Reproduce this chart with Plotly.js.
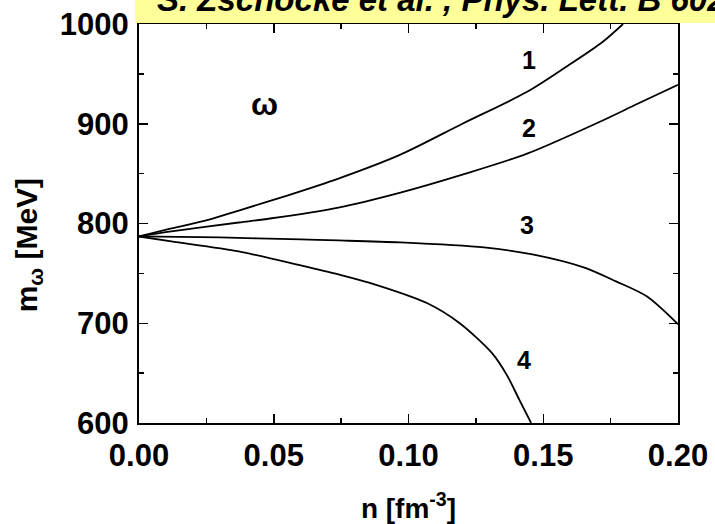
<!DOCTYPE html>
<html>
<head>
<meta charset="utf-8">
<script src="https://cdn.plot.ly/plotly-3.0.1.min.js"></script>
<style>
  html, body { margin: 0; padding: 0; background: #fff; }
  #chart { width: 715px; height: 524px; }
</style>
</head>
<body>
<div id="chart"></div>
<script>
// omega meson mass vs. baryon density, four parameter sets
const n1 = [0, 0.012, 0.026, 0.037, 0.055, 0.074, 0.097, 0.120, 0.144, 0.159, 0.172, 0.1796];
const m1 = [787, 795, 804, 813, 828, 845, 869, 900, 932, 958, 982, 1000];

const n2 = [0, 0.012, 0.037, 0.0486, 0.074, 0.097, 0.120, 0.144, 0.171, 0.185, 0.2];
const m2 = [787, 792, 801, 805, 816, 831, 849, 870, 902, 920, 939];

const n3 = [0, 0.030, 0.060, 0.074, 0.097, 0.128, 0.146, 0.165, 0.177, 0.1884, 0.2];
const m3 = [787, 786, 784, 783, 781, 776, 769, 756, 742, 727, 699];

const n4 = [0, 0.012, 0.037, 0.060, 0.074, 0.085, 0.107, 0.119, 0.131, 0.1365, 0.141, 0.1455];
const m4 = [787, 782, 772, 758, 749, 741, 720, 700, 670, 648, 624, 600];

const curveLabels = ["1", "2", "3", "4"];
const labelN = [0.1447, 0.1447, 0.1439, 0.1429];
const labelM = [964, 896, 799, 663];

const xTicks = [0, 0.05, 0.10, 0.15, 0.20];
const yTicks = [600, 700, 800, 900, 1000];

const FONT = "Liberation Sans, Arial, Helvetica, sans-serif";

const series = [[n1, m1], [n2, m2], [n3, m3], [n4, m4]];
const traces = series.map((s, i) => ({
  type: "scatter",
  mode: "lines",
  x: s[0],
  y: s[1],
  name: curveLabels[i],
  line: { color: "#000", width: 1.8, shape: "spline", smoothing: 0.8 },
  showlegend: false,
  hoverinfo: "skip"
}));

const annotations = curveLabels.map((t, i) => ({
  x: labelN[i], y: labelM[i], xref: "x", yref: "y",
  text: t, showarrow: false,
  font: { family: FONT, size: 25, color: "#000", weight: "bold" }
}));

// omega symbol inside the frame
annotations.push({
  x: 0.0464, y: 920, xref: "x", yref: "y",
  text: "ω", showarrow: false,
  font: { family: FONT, size: 32, color: "#000", weight: "bold" }
});

// y-axis title
annotations.push({
  xref: "paper", yref: "paper",
  x: -0.205, y: 0.444,
  xanchor: "center", yanchor: "middle",
  text: "m<sub>ω</sub> [MeV]", textangle: -90, showarrow: false,
  font: { family: FONT, size: 30, color: "#000", weight: "bold" }
});

// citation banner text
annotations.push({
  xref: "paper", yref: "paper",
  x: 0.0297, y: 1.0625,
  xanchor: "left", yanchor: "middle",
  text: "S. Zschocke et al. , Phys. Lett. B 602",
  showarrow: false,
  font: { family: FONT, size: 33, color: "#000", weight: "bold", style: "italic" }
});

const axisCommon = {
  showline: true, linecolor: "#000", linewidth: 2,
  mirror: "ticks", ticks: "inside", tickcolor: "#000",
  ticklen: 9, tickwidth: 1.5,
  showgrid: false, zeroline: false,
  tickfont: { family: FONT, size: 31, color: "#000", weight: "bold" }
};

const layout = {
  width: 715, height: 524,
  margin: { l: 139, r: 37, t: 24, b: 101 },
  paper_bgcolor: "#fff", plot_bgcolor: "#fff",
  xaxis: Object.assign({}, axisCommon, {
    range: [0, 0.2],
    tickvals: xTicks, tickformat: ".2f",
    minor: { ticks: "inside", ticklen: 5, tickwidth: 1.5, tickcolor: "#000", dtick: 0.025, tick0: 0 },
    ticklabelstandoff: 4,
    title: {
      text: "n [fm<sup>-3</sup>]",
      font: { family: FONT, size: 28, color: "#000", weight: "bold" },
      standoff: 30
    }
  }),
  yaxis: Object.assign({}, axisCommon, {
    range: [600, 1000],
    tickvals: yTicks,
    minor: { ticks: "inside", ticklen: 5, tickwidth: 1.5, tickcolor: "#000", dtick: 50, tick0: 600 },
    ticklabelstandoff: 2
  }),
  shapes: [{
    type: "rect", xref: "paper", yref: "paper",
    x0: -0.0074, x1: 1.07, y0: 1.0025, y1: 1.07,
    fillcolor: "#FFFF99", line: { width: 0 }, layer: "above"
  }],
  annotations: annotations
};

Plotly.newPlot("chart", traces, layout, { displayModeBar: false, staticPlot: true });
</script>
</body>
</html>
